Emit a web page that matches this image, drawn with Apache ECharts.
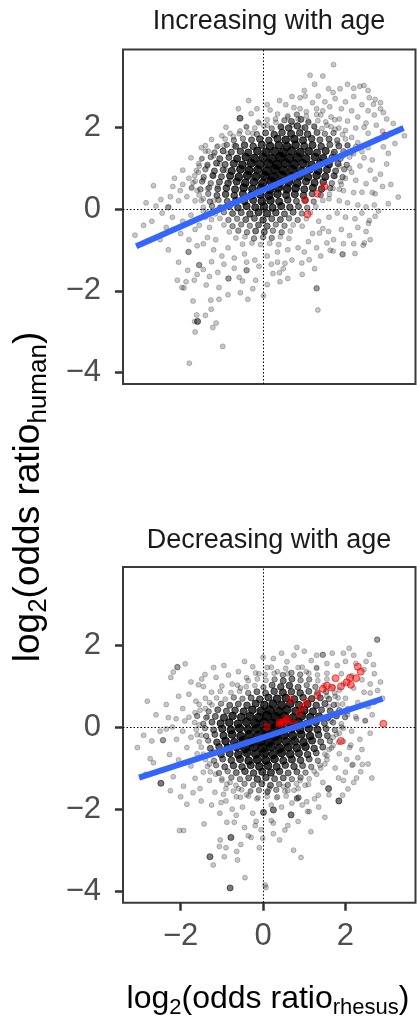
<!DOCTYPE html>
<html><head><meta charset="utf-8">
<script src="https://cdn.jsdelivr.net/npm/echarts@6/dist/echarts.min.js"></script>
<style>html,body{margin:0;padding:0;background:#fff}#c{width:417px;height:1019px}</style>
</head><body><div id="c"></div>
<script>
const panelTitles = ['Increasing with age', 'Decreasing with age'];
const xTicks = [-2, 0, 2];
const yTicks = [-4, -2, 0, 2];

// [x, y, number of overlapping points]
const topPoints = [
[1.71,3.53,1],[1.14,3.27,1],[1.45,3.25,1],[2.35,3.0,1],[2.45,3.02,1],[1.87,2.94,1],[1.59,2.94,1],[1.34,2.76,1],[1.02,2.76,1],[0.9,2.72,1],[2.58,2.72,1],[2.72,2.68,1],[2.68,2.56,1],[0.17,2.42,1],[-0.29,2.33,1],[-0.56,2.22,3],[2.92,2.36,1],[3.16,2.09,1],[3.43,1.79,1],[2.92,1.52,1],[3.04,1.36,1],[2.72,0.73,1],[2.72,0.37,1],[3.28,0.29,1],[3.04,0.13,1],[2.4,0.41,1],[-2.66,0.57,1],[-2.19,0.55,1],[-2.01,0.45,1],[-2.48,0.23,1],[-2.84,0.15,1],[-2.6,0.07,1],[-2.3,0.04,2],[-1.49,1.22,1],[-1.33,1.42,1],[-1.0,1.79,1],[-0.72,1.77,1],[-0.56,1.91,1],[-1.12,1.52,1],[-1.57,0.9,1],[-1.73,0.53,1],[-1.65,0.68,1],
[-3.11,-0.64,1],[-1.81,-1.05,2],[-1.83,-1.5,1],[-1.55,-1.37,2],[-1.45,-1.48,1],[-1.25,-1.29,1],[-2.08,-1.74,1],[-1.87,-1.78,1],[-1.67,-1.74,1],[-1.97,-1.92,1],[-1.92,-1.93,1],[-1.38,-1.86,1],[-1.07,-1.92,1],[-0.84,-1.7,2],[-0.58,-1.67,1],[-0.5,-1.76,1],[-0.4,-1.5,2],[-0.18,-1.74,1],[0.01,-2.12,1],[-1.27,-2.23,1],[-1.07,-2.21,1],[-0.37,-2.21,1],[-1.26,-2.45,1],[-1.61,-2.59,1],[-1.59,-2.75,3],[-1.66,-2.75,1],[-1.14,-2.79,1],[-1.22,-2.9,1],[-1.65,-3.01,1],[-0.98,-3.36,1],[-1.79,-3.77,1],[0.41,-1.78,1],[0.24,-1.58,1],[0.4,-1.56,1],[0.49,-1.46,1],[0.53,-1.33,1],[0.94,-1.32,1],[1.12,-1.24,1],[1.25,-1.46,1],[1.3,-1.94,2],[1.33,-2.47,1],[1.93,-1.11,2],[2.23,-1.09,1],[1.63,-1.01,1],[1.7,-1.03,1],[2.43,-0.89,1],[2.46,-0.83,1],[2.6,-0.75,1],[2.58,-0.28,1],[2.56,-0.35,1],[2.72,-0.18,1],[2.23,-0.24,1],[1.71,-0.75,1],[1.55,-0.83,1],[1.59,-0.55,1],[1.45,-0.48,1],[1.37,-0.59,1],
[0.55,2.55,1],[0.75,2.48,1],[1.2,2.6,1],[1.5,2.62,1],[1.75,2.7,1],[2.0,2.62,1],[2.2,2.75,1],[2.4,2.55,1],[2.55,2.4,1],[2.7,2.3,1],[1.05,2.38,1],[1.3,2.45,1],[1.62,2.5,1],[1.9,2.45,1],[2.15,2.4,1],[0.3,2.2,1],[0.6,2.25,1],[0.85,2.2,1],[1.1,2.15,1],[1.4,2.3,1],[1.65,2.25,1],[1.85,2.2,1],[2.05,2.15,1],[2.3,2.25,1],[2.5,2.1,1],[2.75,2.05,1],[2.9,1.9,1],[-0.1,2.1,1],[0.1,2.05,1],[-0.4,2.0,1],[0.45,2.0,1],[0.7,2.05,1],[0.95,1.98,1],[1.25,2.0,1],[1.55,2.05,1],[1.75,1.95,1],[2.0,1.92,1],[2.25,1.98,1],[2.55,1.85,1],[2.75,1.7,1],[-0.8,1.85,1],[-0.25,1.85,1],
[-1.4,1.55,1],[-1.2,1.3,1],[-0.95,1.55,1],[-0.85,1.35,1],[-1.05,1.1,1],[-1.35,1.05,1],[-1.55,1.05,1],[-0.7,1.55,1],[-0.9,0.95,1],[-1.2,0.8,1],[-1.45,0.72,1],[-0.65,1.2,1],[-1.8,0.75,1],[-1.95,0.6,1],[-1.6,0.45,1],[-1.35,0.5,1],[-1.1,0.55,1],[-0.8,0.7,1],[-2.25,0.3,1],[-2.05,0.2,1],[-1.85,0.3,1],[-1.65,0.2,1],[-1.45,0.25,1],
[1.8,1.6,1],[2.05,1.55,1],[2.3,1.62,1],[2.55,1.5,1],[1.7,1.35,1],[1.95,1.3,1],[2.2,1.35,1],[2.45,1.25,1],[2.65,1.2,1],[1.6,1.1,1],[1.85,1.05,1],[2.1,1.0,1],[2.35,1.05,1],[2.6,0.95,1],[1.75,0.8,1],[2.0,0.75,1],[2.25,0.7,1],[2.5,0.62,1],[1.7,0.5,1],[1.95,0.45,1],[2.2,0.4,1],[2.05,0.15,1],[2.3,0.1,1],[1.85,0.2,1],[1.6,0.25,1],[2.5,0.05,1],[2.7,0.1,1],
[-2.2,-0.2,1],[-1.95,-0.3,1],[-2.35,-0.45,1],[-2.0,-0.6,1],[-1.75,-0.15,1],[-1.55,-0.4,1],[-1.8,-0.75,1],[-1.6,-0.9,1],[-1.35,-0.7,1],[-1.2,-1.0,1],[-1.0,-1.15,1],[-0.7,-1.2,1],[-0.45,-1.1,1],[-0.2,-1.25,1],[0.1,-1.15,1],[0.35,-1.05,1],[0.6,-1.0,1],[0.85,-0.95,1],[1.1,-0.8,1],[1.3,-0.95,1],[1.9,-0.5,1],[2.1,-0.65,1],[2.0,-0.2,1],[1.8,-0.1,1],[2.3,-0.45,1],[-1.4,-0.2,1],[0.7,-1.25,1],[-0.1,-1.4,1],[0.2,-1.35,1],[-0.95,-1.35,1],[-1.1,-1.55,1],[-0.7,-1.45,1],
[1.0,2.9,1],[1.25,3.05,1],[2.05,3.05,1],[2.2,2.95,1],[2.55,2.9,1],[1.7,2.85,1],[0.7,2.75,1],[0.4,2.65,1],[0.1,2.55,1],[-0.15,2.45,1],[2.85,2.6,1],[3.0,2.2,1],[2.85,2.45,1],[3.1,1.85,1],[3.2,1.6,1],[3.0,1.1,1],[2.85,0.85,1],[2.9,0.55,1],[3.1,0.6,1],[2.65,0.4,1],[2.8,-0.05,1],[2.4,-0.1,1],[2.5,-0.55,1],[2.2,-0.85,1],[1.95,-0.85,1],[1.4,-1.15,1],[0.95,-1.6,1],[0.6,-1.7,1],[0.1,-1.85,1],[-0.25,-1.95,1],[-0.55,-2.05,1],[-0.85,-2.1,1],[-1.3,-1.65,1],[-1.6,-1.6,1],[-1.7,-2.25,1],[-1.4,-2.6,1],[-2.05,-1.3,1],[-2.3,-1.0,1],[-2.5,-0.75,1],[-2.7,-0.3,1],[-2.45,-0.1,1],[-2.9,-0.4,1],[-2.15,0.75,1],[-1.95,0.95,1],[-1.75,1.25,1],[-1.5,1.5,1],[-1.25,1.7,1],[-0.9,2.0,1],[-0.6,2.45,1],[-0.35,2.65,1],[-1.2,0.2,1],[-1.45,-0.05,1],[-1.65,-0.5,1],[-1.3,-0.45,1],[-1.45,-0.85,1],[-1.15,-0.75,1],[-0.85,-0.95,1],[-0.4,-1.3,1],[0.35,-1.3,1],[1.0,-1.05,1],[1.2,-0.6,1],[1.35,-0.3,1],[1.6,-0.2,1],[1.9,0.6,1],[2.15,0.9,1],[2.4,1.4,1],[2.15,1.75,1],[2.45,2.0,1],[1.45,2.4,1],[0.9,2.45,1],
[0.35,2.32,1],[0.6,2.28,1],[0.82,2.31,2],[1.05,2.27,1],[1.3,2.31,1],
[-0.12,2.13,1],[0.1,2.18,1],[0.31,2.12,1],[0.52,2.17,2],[0.69,2.14,3],[0.92,2.19,3],[1.1,2.12,2],[1.33,2.16,1],[1.52,2.13,1],[1.74,2.18,1],
[-0.41,2.02,1],[-0.2,1.98,1],[0.02,2.03,1],[0.21,1.97,2],[0.43,2.01,3],[0.62,1.98,4],[0.83,2.03,4],[1.02,1.99,3],[1.24,2.02,2],[1.43,1.97,1],[1.65,2.01,1],[1.84,1.98,1],
[-0.58,1.84,1],[-0.37,1.87,1],[-0.15,1.83,2],[0.06,1.86,3],[0.27,1.82,4],[0.46,1.87,4],[0.68,1.84,5],[0.89,1.86,4],[1.08,1.83,4],[1.31,1.87,3],[1.5,1.84,2],[1.71,1.86,2],[1.93,1.82,1],
[-0.92,1.71,1],[-0.71,1.68,2],[-0.49,1.72,2],[-0.28,1.69,3],[-0.08,1.71,4],[0.14,1.68,4],[0.35,1.72,5],[0.55,1.69,6],[0.76,1.71,6],[0.97,1.68,5],[1.18,1.72,4],[1.38,1.69,3],[1.6,1.71,3],[1.8,1.68,2],[2.0,1.71,1],
[-1.1,1.54,1],[-0.88,1.57,2],[-0.66,1.53,3],[-0.45,1.56,4],[-0.24,1.53,4],[-0.03,1.57,5],[0.17,1.54,6],[0.38,1.56,6],[0.58,1.53,7],[0.79,1.57,6],[1.0,1.54,5],[1.2,1.56,5],[1.41,1.53,4],[1.62,1.57,3],[1.84,1.54,3],[2.05,1.56,2],[2.25,1.53,1],
[-1.4,1.41,1],[-1.18,1.38,2],[-0.97,1.42,3],[-0.77,1.39,3],[-0.55,1.41,4],[-0.36,1.38,5],[-0.14,1.42,6],[0.07,1.39,7],[0.28,1.41,7],[0.48,1.38,8],[0.69,1.42,7],[0.9,1.39,7],[1.11,1.41,6],[1.31,1.38,5],[1.52,1.42,5],[1.73,1.39,3],[1.95,1.41,2],[2.15,1.38,1],
[-1.48,1.24,1],[-1.27,1.27,2],[-1.05,1.23,3],[-0.83,1.26,3],[-0.63,1.23,5],[-0.42,1.27,6],[-0.21,1.24,7],[0.0,1.26,7],[0.21,1.23,8],[0.42,1.27,9],[0.63,1.24,8],[0.83,1.26,8],[1.04,1.23,7],[1.26,1.27,6],[1.46,1.24,6],[1.67,1.26,3],[1.88,1.23,2],[2.1,1.27,1],
[-1.56,1.11,1],[-1.35,1.08,2],[-1.13,1.12,3],[-0.92,1.09,3],[-0.71,1.11,5],[-0.5,1.08,6],[-0.29,1.12,7],[-0.08,1.09,7],[0.13,1.11,8],[0.34,1.08,9],[0.55,1.12,8],[0.76,1.09,8],[0.97,1.11,7],[1.18,1.08,6],[1.39,1.12,6],[1.6,1.09,5],[1.82,1.11,3],[2.03,1.08,2],
[-1.62,0.94,1],[-1.4,0.97,2],[-1.18,0.93,3],[-0.97,0.96,3],[-0.76,0.93,5],[-0.55,0.97,6],[-0.34,0.94,7],[-0.13,0.96,7],[0.08,0.93,8],[0.29,0.97,9],[0.5,0.94,8],[0.71,0.96,8],[0.92,0.93,7],[1.13,0.97,6],[1.34,0.94,6],[1.55,0.96,5],[1.76,0.93,3],[1.97,0.97,2],
[-1.66,0.81,1],[-1.44,0.78,2],[-1.22,0.82,3],[-1.01,0.79,3],[-0.8,0.81,5],[-0.59,0.78,6],[-0.38,0.82,7],[-0.17,0.79,7],[0.04,0.81,8],[0.25,0.78,9],[0.46,0.82,8],[0.67,0.79,8],[0.88,0.81,7],[1.09,0.78,6],[1.3,0.82,6],[1.51,0.79,5],[1.72,0.81,3],[1.93,0.78,2],
[-1.7,0.64,1],[-1.48,0.67,2],[-1.27,0.63,2],[-1.06,0.66,3],[-0.85,0.63,4],[-0.64,0.67,5],[-0.43,0.64,6],[-0.22,0.66,6],[-0.01,0.63,7],[0.2,0.67,8],[0.41,0.64,7],[0.62,0.66,7],[0.83,0.63,6],[1.04,0.67,5],[1.25,0.64,5],[1.46,0.66,4],[1.67,0.63,2],[1.88,0.67,1],
[-1.74,0.51,1],[-1.52,0.48,2],[-1.31,0.52,2],[-1.1,0.49,3],[-0.89,0.51,4],[-0.68,0.48,5],[-0.47,0.52,6],[-0.26,0.49,6],[-0.05,0.51,7],[0.16,0.48,8],[0.37,0.52,7],[0.58,0.49,7],[0.79,0.51,6],[1.0,0.48,5],[1.21,0.52,5],[1.42,0.49,4],[1.63,0.51,2],[1.85,0.48,1],
[-1.55,0.34,1],[-1.33,0.37,2],[-1.12,0.33,3],[-0.91,0.36,4],[-0.7,0.33,4],[-0.49,0.37,5],[-0.28,0.34,6],[-0.07,0.36,6],[0.14,0.33,7],[0.35,0.37,6],[0.56,0.34,5],[0.77,0.36,5],[0.98,0.33,4],[1.19,0.37,3],[1.4,0.34,2],[1.61,0.36,1],
[-1.5,0.21,1],[-1.29,0.18,2],[-1.08,0.22,2],[-0.87,0.19,3],[-0.66,0.21,4],[-0.45,0.18,4],[-0.24,0.22,5],[-0.03,0.19,6],[0.18,0.21,6],[0.39,0.18,5],[0.6,0.22,4],[0.81,0.19,3],[1.02,0.21,3],[1.23,0.18,2],[1.45,0.21,1],
[-1.45,0.04,1],[-1.24,0.07,2],[-1.03,0.03,3],[-0.82,0.06,3],[-0.61,0.03,4],[-0.4,0.07,5],[-0.19,0.04,5],[0.02,0.06,6],[0.23,0.03,5],[0.44,0.07,5],[0.65,0.04,4],[0.86,0.06,3],[1.07,0.03,2],[1.28,0.06,1],
[-1.36,-0.09,1],[-1.16,-0.12,1],[-0.95,-0.08,2],[-0.74,-0.11,3],[-0.53,-0.09,3],[-0.32,-0.12,4],[-0.11,-0.08,5],[0.1,-0.11,5],[0.31,-0.09,4],[0.52,-0.12,3],[0.73,-0.08,3],[0.94,-0.11,2],[1.15,-0.09,1],
[-1.25,-0.26,1],[-1.05,-0.23,1],[-0.84,-0.27,2],[-0.63,-0.24,2],[-0.42,-0.26,3],[-0.21,-0.23,3],[0.0,-0.27,4],[0.21,-0.24,3],[0.42,-0.26,3],[0.63,-0.23,2],[0.84,-0.27,2],[1.05,-0.24,1],
[-0.95,-0.39,1],[-0.74,-0.42,2],[-0.53,-0.38,2],[-0.32,-0.41,2],[-0.11,-0.39,3],[0.1,-0.42,3],[0.31,-0.38,2],[0.52,-0.41,2],[0.73,-0.39,1],[0.95,-0.42,1],
[-0.82,-0.56,1],[-0.6,-0.53,2],[-0.39,-0.57,2],[-0.18,-0.54,3],[0.03,-0.56,3],[0.24,-0.53,2],[0.45,-0.57,2],[0.66,-0.54,1],
[-0.66,-0.71,1],[-0.44,-0.68,1],[-0.22,-0.72,2],[0.0,-0.69,2],[0.21,-0.71,2],[0.42,-0.68,1],[0.63,-0.72,1],
[-0.5,-0.86,1],[-0.27,-0.83,1],[-0.06,-0.87,1],[0.16,-0.84,1],[0.38,-0.87,1]
];
const topRed = [[1.02,0.22],[1.32,0.37],[1.49,0.55],[1.08,-0.13],[2.96,1.79]];
const topFitX = [-3.08, 3.41];
const topFitY = [-0.91, 1.98];

const botPoints = [
[2.77,2.13,2],[0.82,1.94,1],[2.09,1.92,1],[1.45,1.76,2],[1.68,1.8,1],[2.58,1.77,1],[0.25,1.67,1],[0.58,1.59,1],[1.17,1.62,1],[2.68,1.52,1],[-0.25,1.47,1],[-1.89,1.54,1],[-2.08,1.46,2],[-2.18,1.34,1],[-2.24,1.21,1],[-0.84,1.27,1],[-1.14,1.21,1],[-1.41,1.28,1],[-1.49,1.17,1],[-1.57,1.03,1],[-1.45,0.99,1],[-2.81,0.63,1],[-2.3,0.23,1],[-2.11,0.2,1],[-1.63,0.63,1],[-1.04,0.87,1],[2.78,0.89,1],[2.6,0.83,1],[2.48,0.15,1],
[-3.05,-0.5,1],[-2.7,-0.34,1],[-2.74,-0.77,1],[-2.66,-0.87,1],[-2.48,-1.37,3],[-2.43,-0.32,2],[-2.27,-0.67,1],[-2.18,-1.21,1],[-1.93,-1.44,1],[-1.85,-1.88,1],[-1.53,-1.5,1],[-1.43,-2.36,1],[-2.03,-2.52,1],[-1.93,-2.52,1],[-0.88,-2.32,1],[-0.7,-2.32,1],[-1.04,-2.75,1],[-0.78,-2.69,3],[-1.06,-2.91,1],[-0.9,-2.94,1],[-0.64,-3.03,1],[-1.29,-3.16,3],[-0.94,-3.16,1],[-0.62,-3.24,1],[-1.21,-3.36,1],[-0.44,-3.67,1],[-0.8,-3.92,3],[0.07,-3.91,1],[0.05,-3.85,1],[-0.36,-2.65,1],[-0.29,-2.69,1],[-0.54,-2.86,1],[-0.09,-2.94,1],[-0.01,-2.71,1],[0.25,-2.6,1],[0.53,-2.51,1],[0.74,-3.0,1],[0.92,-3.18,1],[1.16,-2.55,1],[0.01,-2.08,3],[0.25,-2.02,3],[0.68,-2.14,3],[0.25,-2.34,1],[0.2,-2.28,1],[-0.19,-2.4,1],[-0.17,-2.3,1],[1.12,-2.06,1],[1.08,-2.06,1],[0.82,-1.74,2],[0.86,-1.72,2],[1.06,-1.82,1],[1.34,-1.66,1],[1.59,-1.5,3],[1.84,-1.8,3],[1.93,-1.66,1],[2.06,-1.51,1],[1.83,-1.24,1],[2.27,-1.24,1],[2.64,-1.24,1],[2.37,-1.09,1],[2.41,-0.91,1],[2.18,-0.91,1],[2.16,-0.93,1],[2.03,-0.79,1],[2.13,-0.44,1],[2.27,0.2,1],[2.48,0.16,1],[-1.02,-1.84,1],[-1.17,-1.59,1],[-0.96,-1.64,1],
[-0.6,1.35,1],[-0.4,1.2,1],[-0.1,1.3,1],[0.1,1.45,1],[0.35,1.35,1],[0.6,1.3,1],[0.85,1.45,1],[1.05,1.35,1],[1.3,1.45,1],[1.55,1.55,1],[1.8,1.5,1],[2.0,1.6,1],[2.25,1.55,1],[2.45,1.4,1],[1.9,1.3,1],[2.15,1.25,1],[2.4,1.15,1],[2.6,1.05,1],[-0.75,1.05,1],[-1.0,1.0,1],[-1.25,0.85,1],[-0.55,0.95,1],[1.95,1.05,1],[2.2,0.95,1],[2.45,0.85,1],[1.75,0.75,1],[2.0,0.7,1],[2.3,0.6,1],[2.55,0.5,1],[-1.4,0.7,1],[-1.8,0.8,1],[-1.95,0.45,1],[-1.65,0.35,1],[-1.4,0.45,1],[-2.2,0.0,1],[-1.9,0.15,1],[-2.5,-0.1,1],[-2.1,-0.3,1],[-1.85,-0.5,1],[-2.05,-0.8,1],[-1.75,-0.95,1],[-1.5,-0.2,1],[-1.6,-0.65,1],[-1.45,-1.1,1],[-1.3,-1.3,1],[-1.65,-1.25,1],[1.8,0.35,1],[2.05,0.3,1],[1.9,0.0,1],[2.15,-0.1,1],[1.7,-0.25,1],[1.95,-0.35,1],[2.35,-0.3,1],[1.6,-0.55,1],[1.85,-0.65,1],[1.5,-0.9,1],[1.75,-1.0,1],[2.0,-1.1,1],[1.3,-1.15,1],[1.45,-1.35,1],[1.1,-1.4,1],[0.85,-1.5,1],[0.6,-1.55,1],[0.35,-1.7,1],[0.1,-1.6,1],[-0.15,-1.75,1],[-0.4,-1.65,1],[-0.65,-1.7,1],[-0.9,-1.5,1],[-0.5,-1.95,1],[0.45,-1.95,1],[-0.25,-2.1,1],[0.95,-1.9,1],[-0.75,-2.0,1],[1.25,-1.75,1],
[-2.6,0.3,1],[-2.35,0.55,1],[-2.05,0.75,1],[-1.75,1.1,1],[-1.2,1.45,1],[-0.95,1.5,1],[-0.45,1.6,1],[0.0,1.7,1],[0.45,1.8,1],[0.75,1.75,1],[1.0,1.85,1],[1.3,1.75,1],[1.95,1.8,1],[2.2,1.75,1],[2.5,1.6,1],[2.7,1.3,1],[2.85,1.1,1],[2.9,0.7,1],[2.7,0.6,1],[2.65,0.3,1],[2.6,-0.15,1],[2.4,-0.55,1],[2.3,-0.75,1],[2.55,-0.9,1],[2.2,-1.35,1],[1.95,-1.3,1],[1.6,-1.65,1],[1.35,-1.95,1],[1.5,-2.2,1],[0.85,-2.3,1],[0.6,-2.4,1],[0.4,-2.75,1],[-0.05,-2.5,1],[-0.45,-2.45,1],[-0.65,-2.15,1],[-1.05,-2.1,1],[-1.25,-1.9,1],[-1.5,-1.8,1],[-1.7,-1.6,1],[-2.0,-1.7,1],[-2.25,-1.55,1],[-2.45,-1.05,1],[-2.85,-1.15,1],[-2.9,-0.2,1],[-2.35,-0.05,1],[-1.95,-0.1,1],[-1.75,-0.25,1],[-1.55,0.05,1],[-1.35,0.25,1],[-1.55,0.55,1],[-1.3,0.6,1],[-1.2,-0.6,1],[-1.3,-0.9,1],[-1.15,-1.15,1],[-1.0,-1.3,1],[-0.8,-1.35,1],[1.4,-1.0,1],[1.55,-0.7,1],[1.7,-0.45,1],[1.65,0.15,1],[1.6,0.5,1],[1.8,0.55,1],[1.55,0.75,1],[1.85,0.9,1],[2.05,0.45,1],[2.25,0.25,1],[2.1,-0.5,1],[1.85,-0.15,1],[0.9,-1.3,1],[0.5,-1.45,1],[0.15,-1.5,1],[-0.3,-1.55,1],[-0.6,-1.5,1],[-0.9,-1.8,1],[0.2,-1.9,1],[0.7,-1.85,1],
[0.2,1.46,1],[0.55,1.43,1],[0.95,1.46,1],[1.3,1.43,1],
[-0.18,1.32,1],[0.05,1.28,1],[0.27,1.31,1],[0.48,1.27,2],[0.69,1.32,2],[0.9,1.28,2],[1.11,1.31,1],[1.32,1.27,1],[1.55,1.31,1],
[-0.36,1.13,1],[-0.14,1.17,1],[0.07,1.14,1],[0.28,1.16,2],[0.49,1.13,3],[0.7,1.17,3],[0.91,1.14,2],[1.12,1.16,2],[1.33,1.13,1],[1.55,1.17,1],
[-0.62,1.02,1],[-0.41,0.98,1],[-0.2,1.01,1],[0.01,0.97,2],[0.22,1.02,3],[0.43,0.98,4],[0.64,1.01,4],[0.85,0.97,3],[1.06,1.02,2],[1.27,0.98,2],[1.48,1.01,1],[1.7,0.97,1],
[-0.78,0.84,1],[-0.57,0.87,1],[-0.36,0.83,2],[-0.15,0.86,3],[0.06,0.83,3],[0.27,0.87,4],[0.48,0.84,5],[0.69,0.86,4],[0.9,0.83,4],[1.11,0.87,3],[1.32,0.84,2],[1.53,0.86,2],[1.74,0.83,1],
[-1.13,0.71,1],[-0.92,0.68,1],[-0.71,0.72,2],[-0.5,0.69,2],[-0.29,0.71,3],[-0.08,0.68,4],[0.13,0.72,5],[0.34,0.69,6],[0.55,0.71,6],[0.76,0.68,5],[0.97,0.72,4],[1.18,0.69,4],[1.39,0.71,3],[1.6,0.68,2],[1.82,0.71,1],
[-1.24,0.54,1],[-1.02,0.57,2],[-0.81,0.53,3],[-0.6,0.56,3],[-0.39,0.53,4],[-0.18,0.57,5],[0.03,0.54,6],[0.24,0.56,7],[0.45,0.53,7],[0.66,0.57,6],[0.87,0.54,5],[1.08,0.56,5],[1.29,0.53,4],[1.5,0.57,3],[1.72,0.54,2],[1.93,0.56,1],
[-1.53,0.41,1],[-1.32,0.38,2],[-1.1,0.42,3],[-0.89,0.39,3],[-0.68,0.41,4],[-0.47,0.38,5],[-0.26,0.42,6],[-0.05,0.39,7],[0.16,0.41,8],[0.37,0.38,8],[0.58,0.42,7],[0.79,0.39,6],[1.0,0.41,6],[1.21,0.38,5],[1.42,0.42,3],[1.63,0.39,3],[1.85,0.41,2],[2.05,0.38,1],
[-1.8,0.24,1],[-1.6,0.27,2],[-1.38,0.23,2],[-1.16,0.26,3],[-0.95,0.23,5],[-0.74,0.27,6],[-0.53,0.24,6],[-0.32,0.26,7],[-0.11,0.23,8],[0.1,0.27,9],[0.31,0.24,9],[0.52,0.26,8],[0.73,0.23,7],[0.94,0.27,7],[1.15,0.24,6],[1.36,0.26,5],[1.57,0.23,3],[1.78,0.27,3],[1.99,0.24,2],
[-1.66,0.11,1],[-1.45,0.08,2],[-1.24,0.12,3],[-1.03,0.09,5],[-0.82,0.11,6],[-0.61,0.08,6],[-0.4,0.12,7],[-0.19,0.09,8],[0.02,0.11,8],[0.23,0.08,9],[0.44,0.12,8],[0.65,0.09,7],[0.86,0.11,7],[1.07,0.08,6],[1.28,0.12,5],[1.49,0.09,3],[1.7,0.11,2],[1.9,0.08,1],
[-1.62,-0.06,1],[-1.41,-0.03,2],[-1.2,-0.07,3],[-0.99,-0.04,5],[-0.78,-0.07,6],[-0.57,-0.03,7],[-0.36,-0.06,7],[-0.15,-0.04,8],[0.06,-0.07,9],[0.27,-0.03,9],[0.48,-0.06,8],[0.69,-0.04,7],[0.9,-0.07,6],[1.11,-0.03,6],[1.32,-0.06,5],[1.53,-0.04,3],[1.74,-0.07,2],[1.95,-0.03,1],
[-1.6,-0.19,1],[-1.38,-0.22,2],[-1.17,-0.18,3],[-0.96,-0.21,5],[-0.75,-0.18,6],[-0.54,-0.22,7],[-0.33,-0.19,8],[-0.12,-0.21,8],[0.09,-0.18,9],[0.3,-0.22,8],[0.51,-0.19,8],[0.72,-0.21,7],[0.93,-0.18,6],[1.14,-0.22,6],[1.35,-0.19,4],[1.56,-0.21,3],[1.78,-0.18,1],
[-1.55,-0.36,1],[-1.33,-0.33,2],[-1.12,-0.37,4],[-0.91,-0.34,6],[-0.7,-0.37,6],[-0.49,-0.33,7],[-0.28,-0.36,8],[-0.07,-0.34,9],[0.14,-0.37,9],[0.35,-0.33,8],[0.56,-0.36,7],[0.77,-0.34,7],[0.98,-0.37,6],[1.19,-0.33,5],[1.4,-0.36,3],[1.62,-0.34,2],[1.83,-0.37,1],
[-1.5,-0.49,1],[-1.28,-0.52,3],[-1.07,-0.48,4],[-0.86,-0.51,6],[-0.65,-0.48,7],[-0.44,-0.52,8],[-0.23,-0.49,8],[-0.02,-0.51,9],[0.19,-0.48,8],[0.4,-0.52,8],[0.61,-0.49,7],[0.82,-0.51,6],[1.03,-0.48,6],[1.24,-0.52,4],[1.45,-0.49,3],[1.66,-0.51,1],
[-1.45,-0.66,1],[-1.23,-0.63,2],[-1.02,-0.67,4],[-0.81,-0.64,5],[-0.6,-0.67,6],[-0.39,-0.63,7],[-0.18,-0.66,7],[0.03,-0.64,8],[0.24,-0.67,7],[0.45,-0.63,7],[0.66,-0.66,6],[0.87,-0.64,5],[1.08,-0.67,4],[1.29,-0.63,3],[1.5,-0.66,1],
[-1.4,-0.79,1],[-1.19,-0.82,2],[-0.98,-0.78,3],[-0.77,-0.81,4],[-0.56,-0.78,5],[-0.35,-0.82,6],[-0.14,-0.79,7],[0.07,-0.81,7],[0.28,-0.78,6],[0.49,-0.82,5],[0.7,-0.79,5],[0.91,-0.81,4],[1.12,-0.78,3],[1.33,-0.82,2],[1.55,-0.79,1],
[-1.35,-0.96,1],[-1.14,-0.93,2],[-0.93,-0.97,3],[-0.72,-0.94,4],[-0.51,-0.97,4],[-0.3,-0.93,5],[-0.09,-0.96,6],[0.12,-0.94,6],[0.33,-0.97,5],[0.54,-0.93,4],[0.75,-0.96,4],[0.96,-0.94,3],[1.17,-0.97,2],[1.38,-0.93,1],
[-1.28,-1.09,1],[-1.07,-1.12,2],[-0.86,-1.08,2],[-0.65,-1.11,3],[-0.44,-1.08,4],[-0.23,-1.12,4],[-0.02,-1.09,5],[0.19,-1.11,5],[0.4,-1.08,4],[0.61,-1.12,3],[0.82,-1.09,3],[1.03,-1.11,2],[1.24,-1.08,1],
[-1.0,-1.26,1],[-0.77,-1.23,2],[-0.56,-1.27,2],[-0.35,-1.24,3],[-0.14,-1.27,4],[0.07,-1.23,4],[0.28,-1.26,3],[0.49,-1.24,3],[0.7,-1.27,2],[0.91,-1.23,2],[1.12,-1.26,1],
[-0.88,-1.39,1],[-0.66,-1.42,1],[-0.45,-1.38,2],[-0.24,-1.41,2],[-0.03,-1.38,3],[0.18,-1.42,3],[0.39,-1.39,2],[0.6,-1.41,2],[0.81,-1.38,1],[1.02,-1.42,1],
[-0.72,-1.56,1],[-0.52,-1.53,1],[-0.31,-1.57,1],[-0.1,-1.54,2],[0.11,-1.57,2],[0.32,-1.53,2],[0.53,-1.56,1],[0.75,-1.54,1],
[-0.55,-1.71,1],[-0.35,-1.68,1],[-0.12,-1.72,1],[0.1,-1.69,1],[0.33,-1.72,1],[0.56,-1.68,1]
];
const botRed = [[2.3,1.47],[2.37,1.35],[2.11,1.2],[2.26,1.19],[2.03,1.09],[2.13,1.03],[1.89,0.99],[1.76,1.19],[1.67,0.96],[1.45,0.93],[1.55,1.01],[1.32,0.77],[1.06,0.61],[0.96,0.49],[0.67,0.67],[0.88,0.34],[0.58,0.2],[0.49,0.12],[0.4,0.07],[0.09,0.0],[2.92,0.08],[1.89,-0.34],[0.41,0.12],[0.57,0.16],[0.74,0.08]];
const botFitX = [-3.01, 2.9];
const botFitY = [-1.23, 0.69];

const FONT = "'Liberation Sans', Arial, Helvetica, sans-serif";
const X_MIN = -3.4, X_MAX = 3.7, Y_MIN = -4.28, Y_MAX = 3.9;
const ALPHA = 0.22;
const fmt = v => v < 0 ? '\u2212' + Math.abs(v) : String(v);

const grids = [
  {left: 123, top: 49.5, width: 292.5, height: 334.5},
  {left: 123, top: 567, width: 292.5, height: 335.7}
];

function makeX(i, showLabels) {
  return {
    gridIndex: i, type: 'value', min: X_MIN, max: X_MAX,
    axisLine: {show: false, onZero: false}, splitLine: {show: false},
    axisTick: {show: showLabels, length: 8, customValues: xTicks, lineStyle: {width: 2.5, color: '#333'}},
    axisLabel: {show: showLabels, customValues: xTicks, formatter: fmt, fontSize: 31, color: '#4d4d4d', margin: 18, fontFamily: FONT}
  };
}
function makeY(i) {
  return {
    gridIndex: i, type: 'value', min: Y_MIN, max: Y_MAX,
    axisLine: {show: false, onZero: false}, splitLine: {show: false},
    axisTick: {show: true, length: 8, customValues: yTicks, lineStyle: {width: 2.5, color: '#333'}},
    axisLabel: {customValues: yTicks, formatter: fmt, fontSize: 31, color: '#4d4d4d', margin: 22, fontFamily: FONT}
  };
}

// n overlapping points drawn as one mark: opacity stacks, footprint widens slightly
function pointItem(p) {
  const n = p[2] || 1;
  return {
    value: [p[0], p[1]],
    symbolSize: 5 + 0.55 * (n - 1),
    itemStyle: {opacity: 1 - Math.pow(1 - ALPHA, n)}
  };
}

function panelSeries(i, pts, red, fx, fy) {
  return [
    {
      type: 'scatter', xAxisIndex: i, yAxisIndex: i, symbolSize: 5, silent: true, z: 2,
      itemStyle: {color: '#000', borderColor: '#000', borderWidth: 1},
      data: pts.map(pointItem)
    },
    {
      type: 'scatter', xAxisIndex: i, yAxisIndex: i, symbolSize: 7, silent: true, z: 3,
      itemStyle: {color: 'rgba(255,0,0,0.6)', borderColor: 'rgba(230,0,0,0.8)', borderWidth: 1},
      data: red,
      markLine: {
        silent: true, symbol: ['none', 'none'], label: {show: false}, animation: false,
        lineStyle: {color: '#000', width: 1, type: [1.5, 2]},
        emphasis: {disabled: true},
        data: [{xAxis: 0}, {yAxis: 0}]
      }
    },
    {
      type: 'line', xAxisIndex: i, yAxisIndex: i, symbol: 'none', silent: true, z: 5,
      lineStyle: {color: '#3366FF', width: 6},
      data: fx.map((x, k) => [x, fy[k]])
    }
  ];
}

const chart = echarts.init(document.getElementById('c'), null, {renderer: 'canvas'});
chart.setOption({
  animation: false,
  backgroundColor: '#fff',
  grid: grids.map(g => Object.assign({show: true, borderColor: '#3a3a3a', borderWidth: 2, backgroundColor: 'transparent'}, g)),
  xAxis: [makeX(0, false), makeX(1, true)],
  yAxis: [makeY(0), makeY(1)],
  series: [].concat(
    panelSeries(0, topPoints, topRed, topFitX, topFitY),
    panelSeries(1, botPoints, botRed, botFitX, botFitY)
  ),
  graphic: [
    {type: 'text', x: 269, y: 22, style: {text: panelTitles[0], fontSize: 27, fontFamily: FONT, fill: '#1a1a1a', align: 'center', verticalAlign: 'middle'}},
    {type: 'text', x: 269, y: 541, style: {text: panelTitles[1], fontSize: 27, fontFamily: FONT, fill: '#1a1a1a', align: 'center', verticalAlign: 'middle'}},
    {type: 'text', x: 268, y: 999, style: {
      text: '{m|log}{s|2}{m|(odds ratio}{s|rhesus}{m|)}', align: 'center', verticalAlign: 'middle',
      rich: {m: {fontSize: 32, fontFamily: FONT, fill: '#000', lineHeight: 40, verticalAlign: 'middle'},
             s: {fontSize: 22, fontFamily: FONT, fill: '#000', lineHeight: 22, verticalAlign: 'bottom'}}
    }},
    {type: 'text', x: 29, y: 497, rotation: Math.PI / 2, style: {
      text: '{m|log}{s|2}{m|(odds ratio}{s|human}{m|)}', align: 'center', verticalAlign: 'middle',
      rich: {m: {fontSize: 37, fontFamily: FONT, fill: '#000', lineHeight: 45, verticalAlign: 'middle'},
             s: {fontSize: 26, fontFamily: FONT, fill: '#000', lineHeight: 26, verticalAlign: 'bottom'}}
    }}
  ]
});
</script></body></html>
